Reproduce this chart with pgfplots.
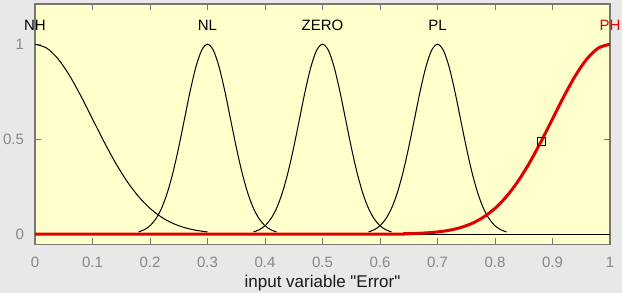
\documentclass[border=0pt]{standalone}
\usepackage{pgfplots}
\pgfplotsset{compat=1.18}
\usepackage{fontspec}
\setmainfont{Liberation Sans}[Ligatures=TeXOff]
\definecolor{figbg}{RGB}{232,232,232}
\definecolor{axbg}{RGB}{255,255,204}
\definecolor{axline}{RGB}{120,120,112}
\definecolor{ticklab}{RGB}{135,135,135}
\definecolor{mfred}{RGB}{225,0,0}
\begin{document}
\begin{tikzpicture}
\fill[figbg] (-17.5pt,-24.25pt) rectangle (293.5pt,122.25pt);
\begin{axis}[
  at={(0pt,0pt)}, anchor=south west, scale only axis,
  width=287.5pt, height=120.25pt,
  xmin=0, xmax=1, ymin=-0.055, ymax=1.212,
  axis background/.style={fill=axbg},
  axis line style={axline, line width=0.6pt},
  xtick={0,0.1,0.2,0.3,0.4,0.5,0.6,0.7,0.8,0.9,1},
  xticklabels={0,0.1,0.2,0.3,0.4,0.5,0.6,0.7,0.8,0.9,1},
  ytick={0,0.5,1}, yticklabels={0,0.5,1},
  xtick pos=both, ytick pos=both,
  xticklabel pos=left, yticklabel pos=left,
  tick align=inside, major tick length=3pt,
  tick style={axline, line width=0.5pt},
  ticklabel style={font=\fontsize{7.5}{9}\selectfont, text=ticklab},
  xticklabel style={anchor=north, yshift=-2.75pt},
  yticklabel style={anchor=east, xshift=-2pt},
  /pgf/number format/assume math mode=true,
  xlabel={input variable "Error"},
  xlabel style={at={(axis description cs:0.5,0)}, anchor=north, yshift=-12pt,
    font=\fontsize{8.5}{10}\selectfont, text=black!90},
  clip=false,
]
% NH
\addplot[black, line width=0.5pt, smooth] coordinates {
(0,1)(0.02,0.9802)(0.04,0.9231)(0.06,0.8353)(0.08,0.7261)(0.10,0.6065)
(0.12,0.4868)(0.14,0.3753)(0.16,0.2780)(0.18,0.1979)(0.20,0.1353)
(0.22,0.0889)(0.24,0.0561)(0.26,0.0340)(0.28,0.0198)(0.30,0.0111)};
% NL
\addplot[black, line width=0.5pt, smooth] coordinates {
(0.18,0.0111)(0.19,0.0228)(0.20,0.0439)(0.21,0.0796)(0.22,0.1353)(0.23,0.2163)
(0.24,0.3247)(0.25,0.4578)(0.26,0.6065)(0.27,0.7548)(0.28,0.8825)(0.29,0.9692)
(0.30,1)(0.31,0.9692)(0.32,0.8825)(0.33,0.7548)(0.34,0.6065)(0.35,0.4578)
(0.36,0.3247)(0.37,0.2163)(0.38,0.1353)(0.39,0.0796)(0.40,0.0439)(0.41,0.0228)(0.42,0.0111)};
% ZERO
\addplot[black, line width=0.5pt, smooth] coordinates {
(0.38,0.0111)(0.39,0.0228)(0.40,0.0439)(0.41,0.0796)(0.42,0.1353)(0.43,0.2163)
(0.44,0.3247)(0.45,0.4578)(0.46,0.6065)(0.47,0.7548)(0.48,0.8825)(0.49,0.9692)
(0.50,1)(0.51,0.9692)(0.52,0.8825)(0.53,0.7548)(0.54,0.6065)(0.55,0.4578)
(0.56,0.3247)(0.57,0.2163)(0.58,0.1353)(0.59,0.0796)(0.60,0.0439)(0.61,0.0228)(0.62,0.0111)};
% PL
\addplot[black, line width=0.5pt, smooth] coordinates {
(0.58,0.0111)(0.59,0.0228)(0.60,0.0439)(0.61,0.0796)(0.62,0.1353)(0.63,0.2163)
(0.64,0.3247)(0.65,0.4578)(0.66,0.6065)(0.67,0.7548)(0.68,0.8825)(0.69,0.9692)
(0.70,1)(0.71,0.9692)(0.72,0.8825)(0.73,0.7548)(0.74,0.6065)(0.75,0.4578)
(0.76,0.3247)(0.77,0.2163)(0.78,0.1353)(0.79,0.0796)(0.80,0.0439)(0.81,0.0228)(0.82,0.0111)};
% baseline
\addplot[black, line width=0.5pt] coordinates {(0,0)(1,0)};
% PH (selected)
\addplot[mfred, line width=1.5pt, smooth] coordinates {
(0,0)(0.60,0)(0.64,0.0015)(0.66,0.0031)(0.68,0.0060)(0.70,0.0111)(0.72,0.0198)
(0.74,0.0340)(0.76,0.0561)(0.78,0.0889)(0.80,0.1353)(0.82,0.1979)(0.84,0.2780)
(0.86,0.3753)(0.88,0.4868)(0.90,0.6065)(0.92,0.7261)(0.94,0.8353)(0.96,0.9231)
(0.98,0.9802)(1.00,1)};
% marker
\addplot[only marks, mark=square, mark size=2pt, black, mark options={line width=0.5pt}] coordinates {(0.88,0.4868)};
\node[anchor=base, font=\fontsize{7.5}{9}\selectfont, text=black] at (axis cs:0,1.07) {NH};
\node[anchor=base, font=\fontsize{7.5}{9}\selectfont, text=black] at (axis cs:0.3,1.07) {NL};
\node[anchor=base, font=\fontsize{7.5}{9}\selectfont, text=black] at (axis cs:0.5,1.07) {ZERO};
\node[anchor=base, font=\fontsize{7.5}{9}\selectfont, text=black] at (axis cs:0.7,1.07) {PL};
\node[anchor=base, font=\fontsize{7.5}{9}\selectfont, text=mfred] at (axis cs:1,1.07) {PH};
\end{axis}
\pgfresetboundingbox
\useasboundingbox (-17.5pt,-24.25pt) rectangle (293.5pt,122.25pt);
\end{tikzpicture}
\end{document}
